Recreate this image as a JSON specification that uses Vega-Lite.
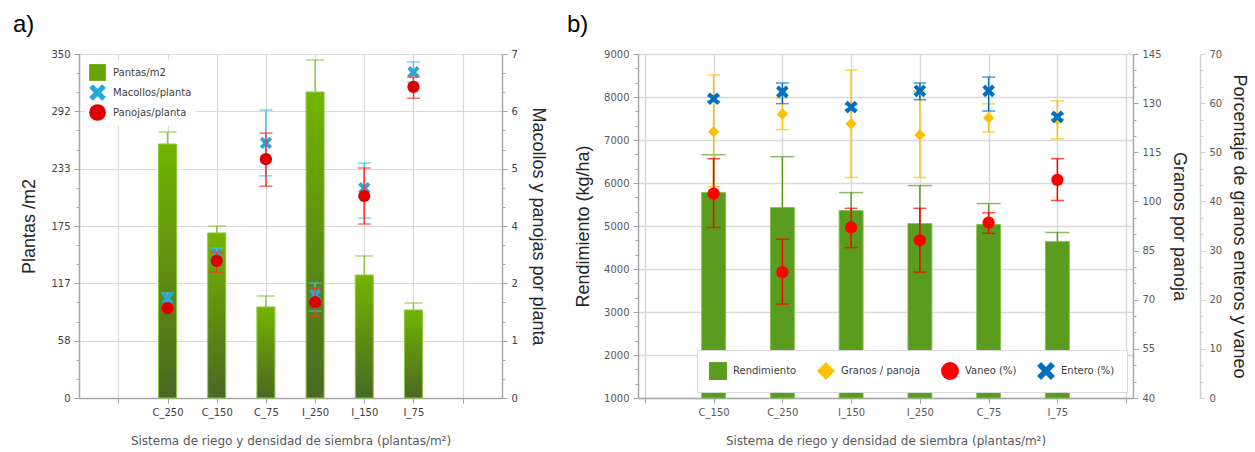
{
  "$schema": "https://vega.github.io/schema/vega-lite/v6.json",
  "background": "white",
  "padding": {"left": 13, "top": 13, "right": 2, "bottom": 5},
  "config": {
    "view": {"stroke": null},
    "font": "DejaVu Sans",
    "axis": {
      "labelFont": "DejaVu Sans", "labelFontSize": 10, "labelColor": "#404040",
      "titleFont": "Liberation Sans", "titleFontSize": 18, "titleFontWeight": "normal", "titleColor": "#262626",
      "domainColor": "#a6a6a6", "domainWidth": 1.5, "tickColor": "#a6a6a6", "tickSize": 5,
      "gridColor": "#d9d9d9", "gridWidth": 1.2
    },
    "legend": {"labelFont": "DejaVu Sans", "labelFontSize": 10, "labelColor": "#404040"},
    "title": {"font": "Liberation Sans", "fontSize": 24, "fontWeight": "normal", "color": "#000000"}
  },
  "datasets": {
    "a": [
      {"cat": "C_250", "plantas": 258.4, "plantas_hi": 270.6, "mac": 2.03, "mac_lo": 1.90, "mac_hi": 2.14, "pan": 1.83, "pan_lo": 1.75, "pan_hi": 1.91},
      {"cat": "C_150", "plantas": 167.9, "plantas_hi": 175.0, "mac": 2.91, "mac_lo": 2.75, "mac_hi": 3.05, "pan": 2.79, "pan_lo": 2.56, "pan_hi": 2.97},
      {"cat": "C_75", "plantas": 92.6, "plantas_hi": 103.8, "mac": 5.19, "mac_lo": 4.52, "mac_hi": 5.86, "pan": 4.86, "pan_lo": 4.31, "pan_hi": 5.39},
      {"cat": "I_250", "plantas": 311.3, "plantas_hi": 343.9, "mac": 2.10, "mac_lo": 1.77, "mac_hi": 2.34, "pan": 1.95, "pan_lo": 1.67, "pan_hi": 2.24},
      {"cat": "I_150", "plantas": 125.1, "plantas_hi": 144.5, "mac": 4.27, "mac_lo": 3.66, "mac_hi": 4.78, "pan": 4.11, "pan_lo": 3.54, "pan_hi": 4.68},
      {"cat": "I_75", "plantas": 89.5, "plantas_hi": 96.7, "mac": 6.63, "mac_lo": 6.43, "mac_hi": 6.84, "pan": 6.33, "pan_lo": 6.10, "pan_hi": 6.53}
    ],
    "b": [
      {"cat": "C_150", "rend": 5777, "rend_hi": 6658, "gran": 121.3, "gran_lo": 104.5, "gran_hi": 138.6, "van": 41.6, "van_lo": 34.7, "van_hi": 48.7, "ent": 60.9, "ent_lo": 60.4, "ent_hi": 61.4},
      {"cat": "C_250", "rend": 5429, "rend_hi": 6612, "gran": 126.7, "gran_lo": 121.9, "gran_hi": 131.6, "van": 25.6, "van_lo": 19.1, "van_hi": 32.3, "ent": 62.3, "ent_lo": 59.9, "ent_hi": 64.1},
      {"cat": "I_150", "rend": 5359, "rend_hi": 5777, "gran": 123.7, "gran_lo": 107.3, "gran_hi": 140.1, "van": 34.7, "van_lo": 30.6, "van_hi": 38.6, "ent": 59.2, "ent_lo": 58.7, "ent_hi": 59.7},
      {"cat": "I_250", "rend": 5058, "rend_hi": 5939, "gran": 120.3, "gran_lo": 107.3, "gran_hi": 133.7, "van": 32.1, "van_lo": 25.6, "van_hi": 38.6, "ent": 62.5, "ent_lo": 60.7, "ent_hi": 64.1},
      {"cat": "C_75", "rend": 5035, "rend_hi": 5522, "gran": 125.5, "gran_lo": 121.2, "gran_hi": 129.8, "van": 35.7, "van_lo": 33.5, "van_hi": 37.7, "ent": 62.5, "ent_lo": 58.4, "ent_hi": 65.3},
      {"cat": "I_75", "rend": 4641, "rend_hi": 4849, "gran": 124.9, "gran_lo": 119.1, "gran_hi": 130.7, "van": 44.4, "van_lo": 40.2, "van_hi": 48.7, "ent": 57.2, "ent_lo": 56.7, "ent_hi": 57.7}
    ]
  },
  "resolve": {"scale": {"color": "independent", "shape": "independent"}},
  "spacing": 20,
  "hconcat": [
    {
      "title": {"text": "a)", "anchor": "start", "frame": "group", "dx": -66, "offset": 12},
      "width": 423, "height": 344,
      "data": {"name": "a"},
      "encoding": {
        "x": {"field": "cat", "type": "nominal",
          "scale": {"type": "point", "domain": [" ", "C_250", "C_150", "C_75", "I_250", "I_150", "I_75", "  "], "padding": 0.8},
          "axis": {"title": "Sistema de riego y densidad de siembra (plantas/m²)", "titleFont": "DejaVu Sans", "titleFontSize": 12, "titleColor": "#595959", "titlePadding": 18, "labelAngle": 0, "labelPadding": 4, "grid": true}}
      },
      "resolve": {"scale": {"y": "independent"}},
      "layer": [
        {
          "layer": [
            {"mark": {"type": "bar", "size": 18, "stroke": "#8cc63f", "strokeWidth": 1,
               "color": {"gradient": "linear", "x1": 0, "y1": 0, "x2": 0, "y2": 1, "stops": [{"offset": 0, "color": "#74b400"}, {"offset": 1, "color": "#4a6824"}]}},
             "encoding": {"y": {"field": "plantas", "type": "quantitative", "scale": {"domain": [0, 350], "nice": false},
               "axis": {"orient": "left", "title": "Plantas /m2", "values": [0, 58.3333, 116.6667, 175, 233.3333, 291.6667, 350], "format": ".0f", "grid": true, "titlePadding": 12, "labelPadding": 4}}}},
            {"mark": {"type": "rule", "color": "#8dc63f", "strokeWidth": 1.5},
             "encoding": {"y": {"field": "plantas", "type": "quantitative", "scale": {"domain": [0, 350], "nice": false},
               "axis": {"orient": "left", "title": "Plantas /m2", "values": [0, 58.3333, 116.6667, 175, 233.3333, 291.6667, 350], "format": ".0f", "grid": true, "titlePadding": 12, "labelPadding": 4}}, "y2": {"field": "plantas_hi"}}},
            {"mark": {"type": "tick", "color": "#8dc63f", "size": 18, "thickness": 1.5},
             "encoding": {"y": {"field": "plantas_hi", "type": "quantitative", "scale": {"domain": [0, 350], "nice": false},
               "axis": {"orient": "left", "title": "Plantas /m2", "values": [0, 58.3333, 116.6667, 175, 233.3333, 291.6667, 350], "format": ".0f", "grid": true, "titlePadding": 12, "labelPadding": 4}}}}
          ]
        },
        {
          "layer": [
            {"mark": {"type": "rule", "color": "#3cc8f0", "strokeWidth": 1.5},
             "encoding": {"y": {"field": "mac_lo", "type": "quantitative", "scale": {"domain": [0, 7], "nice": false},
               "axis": {"orient": "right", "title": "Macollos y panojas por planta", "values": [0, 1.1667, 2.3333, 3.5, 4.6667, 5.8333, 7], "format": ".0f", "grid": false, "titlePadding": 11, "labelPadding": 4}},
               "y2": {"field": "mac_hi"}}},
            {"mark": {"type": "tick", "color": "#3cc8f0", "size": 13, "thickness": 1.5},
             "encoding": {"y": {"field": "mac_lo", "type": "quantitative", "scale": {"domain": [0, 7], "nice": false},
               "axis": {"orient": "right", "title": "Macollos y panojas por planta", "values": [0, 1.1667, 2.3333, 3.5, 4.6667, 5.8333, 7], "format": ".0f", "grid": false, "titlePadding": 11, "labelPadding": 4}}}},
            {"mark": {"type": "tick", "color": "#3cc8f0", "size": 13, "thickness": 1.5},
             "encoding": {"y": {"field": "mac_hi", "type": "quantitative", "scale": {"domain": [0, 7], "nice": false},
               "axis": {"orient": "right", "title": "Macollos y panojas por planta", "values": [0, 1.1667, 2.3333, 3.5, 4.6667, 5.8333, 7], "format": ".0f", "grid": false, "titlePadding": 11, "labelPadding": 4}}}},
            {"mark": {"type": "point", "filled": true, "opacity": 1, "size": 150},
             "encoding": {"y": {"field": "mac", "type": "quantitative", "scale": {"domain": [0, 7], "nice": false},
               "axis": {"orient": "right", "title": "Macollos y panojas por planta", "values": [0, 1.1667, 2.3333, 3.5, 4.6667, 5.8333, 7], "format": ".0f", "grid": false, "titlePadding": 11, "labelPadding": 4}},
               "color": {"datum": "Macollos/planta", "type": "nominal", "scale": {"domain": ["Pantas/m2", "Macollos/planta", "Panojas/planta"], "range": ["#6aa400", "#2aa6d8", "#dd0000"]},
                 "legend": {"title": null, "orient": "top-left", "offset": 6, "fillColor": "white", "padding": 4, "symbolSize": 280, "rowPadding": 3, "labelOffset": 7, "symbolStrokeWidth": 0}},
               "shape": {"datum": "Macollos/planta", "type": "nominal", "scale": {"domain": ["Pantas/m2", "Macollos/planta", "Panojas/planta"], "range": ["square", "M-1,-0.55L-0.55,-1L0,-0.45L0.55,-1L1,-0.55L0.45,0L1,0.55L0.55,1L0,0.45L-0.55,1L-1,0.55L-0.45,0Z", "circle"]},
                 "legend": {"title": null, "orient": "top-left", "offset": 6, "fillColor": "white", "padding": 4, "symbolSize": 280, "rowPadding": 3, "labelOffset": 7, "symbolStrokeWidth": 0}}}},
            {"mark": {"type": "rule", "color": "#ff3333", "strokeWidth": 1.5},
             "encoding": {"y": {"field": "pan_lo", "type": "quantitative", "scale": {"domain": [0, 7], "nice": false},
               "axis": {"orient": "right", "title": "Macollos y panojas por planta", "values": [0, 1.1667, 2.3333, 3.5, 4.6667, 5.8333, 7], "format": ".0f", "grid": false, "titlePadding": 11, "labelPadding": 4}}, "y2": {"field": "pan_hi"}}},
            {"mark": {"type": "tick", "color": "#ff3333", "size": 13, "thickness": 1.5},
             "encoding": {"y": {"field": "pan_lo", "type": "quantitative", "scale": {"domain": [0, 7], "nice": false},
               "axis": {"orient": "right", "title": "Macollos y panojas por planta", "values": [0, 1.1667, 2.3333, 3.5, 4.6667, 5.8333, 7], "format": ".0f", "grid": false, "titlePadding": 11, "labelPadding": 4}}}},
            {"mark": {"type": "tick", "color": "#ff3333", "size": 13, "thickness": 1.5},
             "encoding": {"y": {"field": "pan_hi", "type": "quantitative", "scale": {"domain": [0, 7], "nice": false},
               "axis": {"orient": "right", "title": "Macollos y panojas por planta", "values": [0, 1.1667, 2.3333, 3.5, 4.6667, 5.8333, 7], "format": ".0f", "grid": false, "titlePadding": 11, "labelPadding": 4}}}},
            {"mark": {"type": "point", "filled": true, "opacity": 1, "size": 150},
             "encoding": {"y": {"field": "pan", "type": "quantitative", "scale": {"domain": [0, 7], "nice": false},
               "axis": {"orient": "right", "title": "Macollos y panojas por planta", "values": [0, 1.1667, 2.3333, 3.5, 4.6667, 5.8333, 7], "format": ".0f", "grid": false, "titlePadding": 11, "labelPadding": 4}},
               "color": {"datum": "Panojas/planta", "type": "nominal"},
               "shape": {"datum": "Panojas/planta", "type": "nominal"}}}
          ]
        },
        {"mark": {"type": "tick", "opacity": 0},
         "encoding": {"y": {"field": "plantas", "type": "quantitative", "scale": {"domain": [0, 350], "nice": false},
           "axis": {"orient": "left", "title": null, "labels": false, "domain": false, "grid": false, "tickSize": 3,
             "values": [0, 19.444, 38.889, 58.333, 77.778, 97.222, 116.667, 136.111, 155.556, 175, 194.444, 213.889, 233.333, 252.778, 272.222, 291.667, 311.111, 330.556, 350]}}}},
        {"mark": {"type": "tick", "opacity": 0},
         "encoding": {"y": {"field": "mac", "type": "quantitative", "scale": {"domain": [0, 7], "nice": false},
           "axis": {"orient": "right", "title": null, "labels": false, "domain": false, "grid": false, "tickSize": 3,
             "values": [0, 0.3889, 0.7778, 1.1667, 1.5556, 1.9444, 2.3333, 2.7222, 3.1111, 3.5, 3.8889, 4.2778, 4.6667, 5.0556, 5.4444, 5.8333, 6.2222, 6.6111, 7]}}}}
      ]
    },
    {
      "title": {"text": "b)", "anchor": "start", "frame": "group", "dx": -71, "offset": 12},
      "width": 495, "height": 344,
      "data": {"name": "b"},
      "encoding": {
        "x": {"field": "cat", "type": "nominal",
          "scale": {"type": "point", "domain": [" ", "C_150", "C_250", "I_150", "I_250", "C_75", "I_75", "  "], "padding": 0.1},
          "axis": {"title": "Sistema de riego y densidad de siembra (plantas/m²)", "titleFont": "DejaVu Sans", "titleFontSize": 12, "titleColor": "#595959", "titlePadding": 18, "labelAngle": 0, "labelPadding": 4, "labelColor": "#595959", "grid": true, "gridWidth": 1.5}}
      },
      "resolve": {"scale": {"y": "independent"}},
      "layer": [
        {
          "layer": [
            {"mark": {"type": "bar", "size": 24, "color": "#5a9c1e", "stroke": "#7fbf4a", "strokeWidth": 0.8},
             "encoding": {"y": {"field": "rend", "type": "quantitative", "scale": {"domain": [1000, 9000], "nice": false, "zero": false},
               "axis": {"orient": "left", "title": "Rendimiento (kg/ha)", "format": "d", "values": [1000, 2000, 3000, 4000, 5000, 6000, 7000, 8000, 9000], "grid": true, "gridWidth": 1.5, "titlePadding": 11, "labelPadding": 4, "labelColor": "#595959"}},
               "y2": {"datum": 1000}}},
            {"mark": {"type": "rule", "color": "#5a9c1e", "strokeWidth": 1.5},
             "encoding": {"y": {"field": "rend", "type": "quantitative", "scale": {"domain": [1000, 9000], "nice": false, "zero": false},
               "axis": {"orient": "left", "title": "Rendimiento (kg/ha)", "format": "d", "values": [1000, 2000, 3000, 4000, 5000, 6000, 7000, 8000, 9000], "grid": true, "gridWidth": 1.5, "titlePadding": 11, "labelPadding": 4, "labelColor": "#595959"}}, "y2": {"field": "rend_hi"}}},
            {"mark": {"type": "tick", "color": "#5a9c1e", "size": 24, "thickness": 1.5},
             "encoding": {"y": {"field": "rend_hi", "type": "quantitative", "scale": {"domain": [1000, 9000], "nice": false, "zero": false},
               "axis": {"orient": "left", "title": "Rendimiento (kg/ha)", "format": "d", "values": [1000, 2000, 3000, 4000, 5000, 6000, 7000, 8000, 9000], "grid": true, "gridWidth": 1.5, "titlePadding": 11, "labelPadding": 4, "labelColor": "#595959"}}}}
          ]
        },
        {
          "layer": [
            {"mark": {"type": "rule", "color": "#ffc000", "strokeWidth": 1.5},
             "encoding": {"y": {"field": "gran_lo", "type": "quantitative", "scale": {"domain": [40, 145], "nice": false, "zero": false},
               "axis": {"orient": "right", "title": "Granos por panoja", "values": [40, 55, 70, 85, 100, 115, 130, 145], "grid": false, "titlePadding": 8, "labelPadding": 4, "labelColor": "#595959"}},
               "y2": {"field": "gran_hi"}}},
            {"mark": {"type": "tick", "color": "#ffc000", "size": 13, "thickness": 1.5},
             "encoding": {"y": {"field": "gran_lo", "type": "quantitative", "scale": {"domain": [40, 145], "nice": false, "zero": false},
               "axis": {"orient": "right", "title": "Granos por panoja", "values": [40, 55, 70, 85, 100, 115, 130, 145], "grid": false, "titlePadding": 8, "labelPadding": 4, "labelColor": "#595959"}}}},
            {"mark": {"type": "tick", "color": "#ffc000", "size": 13, "thickness": 1.5},
             "encoding": {"y": {"field": "gran_hi", "type": "quantitative", "scale": {"domain": [40, 145], "nice": false, "zero": false},
               "axis": {"orient": "right", "title": "Granos por panoja", "values": [40, 55, 70, 85, 100, 115, 130, 145], "grid": false, "titlePadding": 8, "labelPadding": 4, "labelColor": "#595959"}}}},
            {"mark": {"type": "point", "filled": true, "opacity": 1, "size": 130},
             "encoding": {"y": {"field": "gran", "type": "quantitative", "scale": {"domain": [40, 145], "nice": false, "zero": false},
               "axis": {"orient": "right", "title": "Granos por panoja", "values": [40, 55, 70, 85, 100, 115, 130, 145], "grid": false, "titlePadding": 8, "labelPadding": 4, "labelColor": "#595959"}},
               "color": {"datum": "Granos / panoja", "type": "nominal", "scale": {"domain": ["Rendimiento", "Granos / panoja", "Vaneo (%)", "Entero (%)"], "range": ["#5a9c1e", "#ffc000", "#ff0000", "#0070c0"]},
                 "legend": {"title": null, "orient": "bottom-right", "direction": "horizontal", "offset": 6, "fillColor": "white", "strokeColor": "#d9d9d9", "padding": 12, "symbolSize": 320, "columnPadding": 20, "labelOffset": 6, "symbolStrokeWidth": 0}},
               "shape": {"datum": "Granos / panoja", "type": "nominal", "scale": {"domain": ["Rendimiento", "Granos / panoja", "Vaneo (%)", "Entero (%)"], "range": ["square", "diamond", "circle", "M-1,-0.55L-0.55,-1L0,-0.45L0.55,-1L1,-0.55L0.45,0L1,0.55L0.55,1L0,0.45L-0.55,1L-1,0.55L-0.45,0Z"]},
                 "legend": {"title": null, "orient": "bottom-right", "direction": "horizontal", "offset": 6, "fillColor": "white", "strokeColor": "#d9d9d9", "padding": 12, "symbolSize": 320, "columnPadding": 20, "labelOffset": 6, "symbolStrokeWidth": 0}}}}
          ]
        },
        {
          "layer": [
            {"mark": {"type": "rule", "color": "#ff0000", "strokeWidth": 1.5},
             "encoding": {"y": {"field": "van_lo", "type": "quantitative", "scale": {"domain": [0, 70], "nice": false},
               "axis": {"orient": "right", "offset": 67, "title": "Porcentaje de granos enteros y vaneo", "values": [0, 10, 20, 30, 40, 50, 60, 70], "grid": false, "titlePadding": 8, "labelPadding": 4, "labelColor": "#595959", "domainColor": "#d0d0d0", "tickColor": "#d0d0d0"}},
               "y2": {"field": "van_hi"}}},
            {"mark": {"type": "tick", "color": "#ff0000", "size": 13, "thickness": 1.5},
             "encoding": {"y": {"field": "van_lo", "type": "quantitative", "scale": {"domain": [0, 70], "nice": false},
               "axis": {"orient": "right", "offset": 67, "title": "Porcentaje de granos enteros y vaneo", "values": [0, 10, 20, 30, 40, 50, 60, 70], "grid": false, "titlePadding": 8, "labelPadding": 4, "labelColor": "#595959", "domainColor": "#d0d0d0", "tickColor": "#d0d0d0"}}}},
            {"mark": {"type": "tick", "color": "#ff0000", "size": 13, "thickness": 1.5},
             "encoding": {"y": {"field": "van_hi", "type": "quantitative", "scale": {"domain": [0, 70], "nice": false},
               "axis": {"orient": "right", "offset": 67, "title": "Porcentaje de granos enteros y vaneo", "values": [0, 10, 20, 30, 40, 50, 60, 70], "grid": false, "titlePadding": 8, "labelPadding": 4, "labelColor": "#595959", "domainColor": "#d0d0d0", "tickColor": "#d0d0d0"}}}},
            {"mark": {"type": "point", "filled": true, "opacity": 1, "size": 150},
             "encoding": {"y": {"field": "van", "type": "quantitative", "scale": {"domain": [0, 70], "nice": false},
               "axis": {"orient": "right", "offset": 67, "title": "Porcentaje de granos enteros y vaneo", "values": [0, 10, 20, 30, 40, 50, 60, 70], "grid": false, "titlePadding": 8, "labelPadding": 4, "labelColor": "#595959", "domainColor": "#d0d0d0", "tickColor": "#d0d0d0"}},
               "color": {"datum": "Vaneo (%)", "type": "nominal"},
               "shape": {"datum": "Vaneo (%)", "type": "nominal"}}},
            {"mark": {"type": "rule", "color": "#0070c0", "strokeWidth": 1.5},
             "encoding": {"y": {"field": "ent_lo", "type": "quantitative", "scale": {"domain": [0, 70], "nice": false},
               "axis": {"orient": "right", "offset": 67, "title": "Porcentaje de granos enteros y vaneo", "values": [0, 10, 20, 30, 40, 50, 60, 70], "grid": false, "titlePadding": 8, "labelPadding": 4, "labelColor": "#595959", "domainColor": "#d0d0d0", "tickColor": "#d0d0d0"}}, "y2": {"field": "ent_hi"}}},
            {"mark": {"type": "tick", "color": "#0070c0", "size": 13, "thickness": 1.5},
             "encoding": {"y": {"field": "ent_lo", "type": "quantitative", "scale": {"domain": [0, 70], "nice": false},
               "axis": {"orient": "right", "offset": 67, "title": "Porcentaje de granos enteros y vaneo", "values": [0, 10, 20, 30, 40, 50, 60, 70], "grid": false, "titlePadding": 8, "labelPadding": 4, "labelColor": "#595959", "domainColor": "#d0d0d0", "tickColor": "#d0d0d0"}}}},
            {"mark": {"type": "tick", "color": "#0070c0", "size": 13, "thickness": 1.5},
             "encoding": {"y": {"field": "ent_hi", "type": "quantitative", "scale": {"domain": [0, 70], "nice": false},
               "axis": {"orient": "right", "offset": 67, "title": "Porcentaje de granos enteros y vaneo", "values": [0, 10, 20, 30, 40, 50, 60, 70], "grid": false, "titlePadding": 8, "labelPadding": 4, "labelColor": "#595959", "domainColor": "#d0d0d0", "tickColor": "#d0d0d0"}}}},
            {"mark": {"type": "point", "filled": true, "opacity": 1, "size": 160},
             "encoding": {"y": {"field": "ent", "type": "quantitative", "scale": {"domain": [0, 70], "nice": false},
               "axis": {"orient": "right", "offset": 67, "title": "Porcentaje de granos enteros y vaneo", "values": [0, 10, 20, 30, 40, 50, 60, 70], "grid": false, "titlePadding": 8, "labelPadding": 4, "labelColor": "#595959", "domainColor": "#d0d0d0", "tickColor": "#d0d0d0"}},
               "color": {"datum": "Entero (%)", "type": "nominal"},
               "shape": {"datum": "Entero (%)", "type": "nominal"}}}
          ]
        },
        {"mark": {"type": "tick", "opacity": 0},
         "encoding": {"y": {"field": "rend", "type": "quantitative", "scale": {"domain": [1000, 9000], "nice": false, "zero": false},
           "axis": {"orient": "left", "title": null, "labels": false, "domain": false, "grid": false, "tickSize": 3,
             "values": [1000, 1333.3, 1666.7, 2000, 2333.3, 2666.7, 3000, 3333.3, 3666.7, 4000, 4333.3, 4666.7, 5000, 5333.3, 5666.7, 6000, 6333.3, 6666.7, 7000, 7333.3, 7666.7, 8000, 8333.3, 8666.7, 9000]}}}},
        {"mark": {"type": "tick", "opacity": 0},
         "encoding": {"y": {"field": "gran", "type": "quantitative", "scale": {"domain": [40, 145], "nice": false, "zero": false},
           "axis": {"orient": "right", "title": null, "labels": false, "domain": false, "grid": false, "tickSize": 3,
             "values": [40, 45, 50, 55, 60, 65, 70, 75, 80, 85, 90, 95, 100, 105, 110, 115, 120, 125, 130, 135, 140, 145]}}}},
        {"mark": {"type": "tick", "opacity": 0},
         "encoding": {"y": {"field": "van", "type": "quantitative", "scale": {"domain": [0, 70], "nice": false},
           "axis": {"orient": "right", "offset": 67, "title": null, "labels": false, "domain": false, "grid": false, "tickSize": 3, "tickColor": "#d0d0d0",
             "values": [0, 3.333, 6.667, 10, 13.333, 16.667, 20, 23.333, 26.667, 30, 33.333, 36.667, 40, 43.333, 46.667, 50, 53.333, 56.667, 60, 63.333, 66.667, 70]}}}}
      ]
    }
  ]
}
